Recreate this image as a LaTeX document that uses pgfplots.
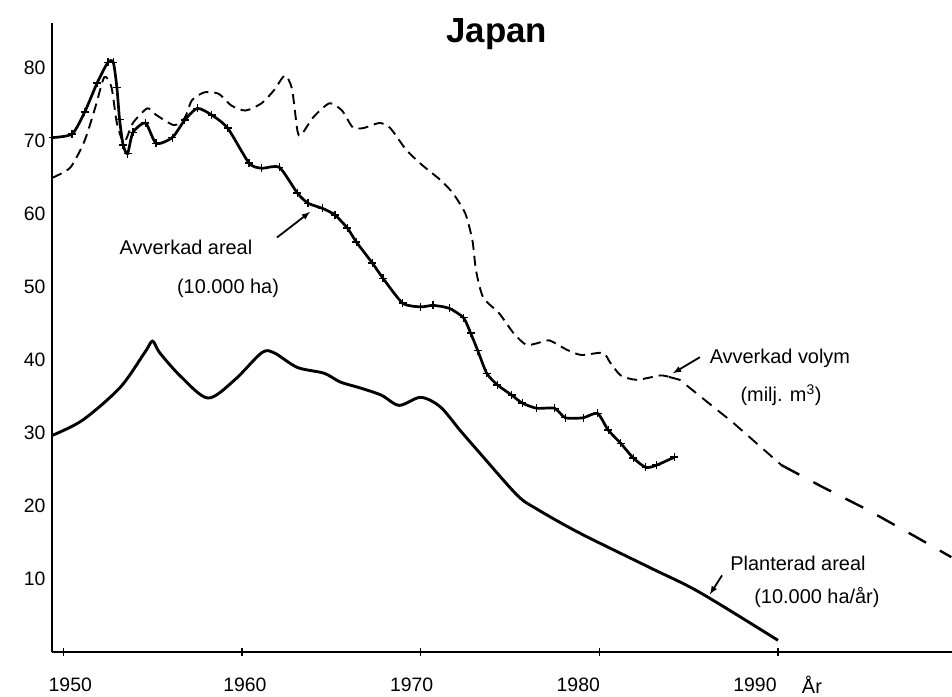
\documentclass[border=0pt]{standalone}
\usepackage{fontspec}
\setmainfont{Liberation Sans}
\usepackage{pgfplots}
\pgfplotsset{compat=1.18}
\begin{document}
\begin{tikzpicture}
\begin{axis}[
  scale only axis, width=900bp, height=629bp,
  xmin=1949.37, xmax=1999.74, ymin=0, ymax=86.2,
  axis lines=left, axis line style={-, line width=1.8bp},
  xtick={1950,1960,1970,1980,1990},
  xticklabels={{\makebox[0pt]{\hspace*{14bp}1950}},{\makebox[0pt]{\hspace*{6bp}1960}},{\makebox[0pt]{\hspace*{-18bp}1970}},{\makebox[0pt]{\hspace*{-42bp}1980}},{\makebox[0pt]{\hspace*{-46bp}1990}}},
  ytick={10,20,...,80},
  tick align=center, major tick length=8bp,
  ytick style={draw=none},
  xtick style={line width=1.5bp, black},
  tick label style={font=\fontsize{19.5}{22}\selectfont},
  /pgf/number format/assume math mode=true,
  xticklabel style={yshift=-18bp},
  yticklabel style={xshift=1bp},
  clip=false,
]
% Avverkad areal (10.000 ha)
\addplot[black, line width=2.7bp, smooth, tension=0.4, mark=+, mark size=4bp, mark options={line width=1.4bp, solid}] coordinates {
(1949.4,70.5) (1950.5,71) (1951.2,74) (1951.9,78) (1952.5,80.8) (1952.8,80.8)
(1953.0,77.4) (1953.15,73) (1953.35,69.5) (1953.6,68.3) (1953.9,71.2) (1954.6,72.5)
(1955.2,69.7) (1956.1,70.5) (1956.8,72.9) (1957.5,74.5) (1958.3,73.6) (1959.2,71.8)
(1960.4,67) (1961.1,66.3) (1962.1,66.4) (1963.1,62.9) (1963.7,61.5) (1964.5,60.8)
(1965.2,59.9) (1965.9,58.1) (1966.4,56.2) (1967.3,53.3) (1967.9,51.2) (1969.0,47.8)
(1970.0,47.3) (1970.7,47.5) (1971.6,47.1) (1972.4,45.8) (1972.8,43.7) (1973.2,41.3)
(1973.7,38.2) (1974.3,36.6) (1975.1,35.2) (1975.7,34.1) (1976.5,33.4) (1977.5,33.4)
(1978.1,32.1) (1979.1,32.1) (1979.9,32.7) (1980.5,30.4) (1981.2,28.6) (1981.9,26.6)
(1982.6,25.3) (1983.2,25.6) (1984.2,26.7)
};
% Avverkad volym (milj. m3)
\addplot[black, line width=1.9bp, smooth, tension=0.4, dash pattern=on 10bp off 6bp] coordinates {
(1949.4,65) (1950.4,66.4) (1951.2,70.1) (1951.8,74.7) (1952.3,78.8) (1952.7,77.4)
(1953.0,72.5) (1953.4,69.8) (1953.9,72.5) (1954.7,74.5) (1955.2,73.6) (1956.2,72.2)
(1956.8,73.2) (1957.2,75.6) (1957.9,76.7) (1958.7,76.5) (1959.4,74.9) (1960.2,74.2)
(1961.1,75.2) (1961.8,77) (1962.4,79) (1962.8,77.2) (1963.1,71.5) (1963.3,70.8)
(1964.0,73.3) (1964.9,75.2) (1965.6,74.2) (1966.2,71.9) (1966.8,71.8) (1967.7,72.5)
(1968.3,71.8) (1969.2,68.8) (1970.1,66.7) (1971.1,64.7) (1971.8,62.9) (1972.5,60.1)
(1972.9,56.4) (1973.1,52.3) (1973.5,48.6) (1974.4,46.4) (1975.2,43.7) (1975.9,42.1)
(1976.5,42.3) (1977.2,42.7) (1978.2,41.4) (1979.0,40.7) (1980.2,41) (1980.6,39.7)
(1981.2,37.9) (1982.1,37.3) (1983.4,37.9) (1983.9,37.7)
};
\addplot[black, line width=1.9bp, dash pattern=on 12bp off 8bp] coordinates {
(1983.9,37.7) (1984.5,37.3) (1987.5,31.4) (1990.2,25.6)
};
\addplot[black, line width=2.4bp, dash pattern=on 20bp off 16bp] coordinates {
(1990.2,25.6) (1992.5,22.6) (1995.0,19.5) (1997.7,15.8) (1999.7,13.0)
};
% Planterad areal (10.000 ha/ar)
\addplot[black, line width=2.9bp, smooth, tension=0.5] coordinates {
(1949.4,29.7) (1951.1,31.8) (1953.2,36.3) (1954.6,41.2) (1955.0,42.6) (1955.4,41.0)
(1956.6,37.7) (1958.1,34.8) (1959.6,37.3) (1961.1,41) (1961.8,41) (1963.1,39)
(1964.6,38.2) (1965.5,37) (1966.6,36.2) (1967.8,35.2) (1968.8,33.8) (1970.0,34.9)
(1971.1,33.6) (1972.2,30.4) (1973.3,27.3) (1975.4,21.5) (1976.5,19.6) (1978.9,16.3)
(1982.8,11.6) (1985.6,8.2) (1990.0,1.6)
};
% texts
\node[font=\fontsize{35}{38}\bfseries] at (axis cs:1974.27,84.7) {Japan};
\node[font=\fontsize{20}{22}\selectfont] at (axis cs:1956.87,55.5) {Avverkad areal};
\node[font=\fontsize{20}{22}\selectfont] at (axis cs:1959.22,49.9) {(10.000 ha)};
\draw[-latex, line width=1.8bp] (axis cs:1961.96,56.8) -- (axis cs:1963.81,60.3);
\node[font=\fontsize{20}{22}\selectfont] at (axis cs:1990.11,40.3) {Avverkad volym};
\node[font=\fontsize{20}{22}\selectfont] at (axis cs:1990.17,35.2) {(milj. m\textsuperscript{3})};
\draw[-latex, line width=1.8bp] (axis cs:1985.63,40.4) -- (axis cs:1984.12,38.2);
\node[font=\fontsize{20}{22}\selectfont] at (axis cs:1991.12,12.2) {Planterad areal};
\node[font=\fontsize{20}{22}\selectfont] at (axis cs:1992.18,7.5) {(10.000 ha/år)};
\draw[-latex, line width=1.8bp] (axis cs:1986.87,10.5) -- (axis cs:1986.19,7.9);
\node[font=\fontsize{20}{22}\selectfont] at (axis cs:1991.9,-4.5) {År};
\end{axis}
\pgfresetboundingbox
\path[use as bounding box] (-52bp,-45bp) rectangle (900bp,652bp);
\end{tikzpicture}
\end{document}
